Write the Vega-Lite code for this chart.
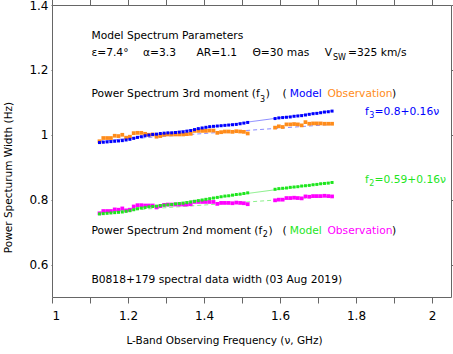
{
  "$schema": "https://vega.github.io/schema/vega-lite/v6.json",
  "width": 399,
  "height": 292,
  "autosize": "none",
  "padding": {"left": 52, "top": 5, "right": 2, "bottom": 57},
  "config": {
    "font": "DejaVu Sans",
    "view": {"stroke": "#666666", "strokeWidth": 1},
    "axis": {"domain": false, "grid": false, "ticks": true, "tickColor": "#666666", "tickWidth": 1, "labelColor": "#000000", "labelFontSize": 12, "titleFontWeight": "normal", "titleColor": "#000000"}
  },
  "datasets": {
    "spec": [
      {"nu": 1.125, "f3m": 0.976, "f3o": 0.980, "f2m": 0.756, "f2o": 0.758},
      {"nu": 1.135, "f3m": 0.977, "f3o": 0.990, "f2m": 0.757, "f2o": 0.765},
      {"nu": 1.145, "f3m": 0.978, "f3o": 0.990, "f2m": 0.758, "f2o": 0.765},
      {"nu": 1.155, "f3m": 0.979, "f3o": 0.990, "f2m": 0.759, "f2o": 0.765},
      {"nu": 1.165, "f3m": 0.980, "f3o": 0.997, "f2m": 0.760, "f2o": 0.770},
      {"nu": 1.175, "f3m": 0.981, "f3o": 0.996, "f2m": 0.761, "f2o": 0.769},
      {"nu": 1.185, "f3m": 0.982, "f3o": 1.000, "f2m": 0.762, "f2o": 0.773},
      {"nu": 1.195, "f3m": 0.984, "f3o": 0.991, "f2m": 0.764, "f2o": 0.767},
      {"nu": 1.205, "f3m": 0.986, "f3o": 0.994, "f2m": 0.766, "f2o": 0.769},
      {"nu": 1.215, "f3m": 0.989, "f3o": 1.005, "f2m": 0.769, "f2o": 0.779},
      {"nu": 1.225, "f3m": 0.992, "f3o": 1.006, "f2m": 0.772, "f2o": 0.783},
      {"nu": 1.235, "f3m": 0.994, "f3o": 1.006, "f2m": 0.774, "f2o": 0.783},
      {"nu": 1.245, "f3m": 0.997, "f3o": 1.003, "f2m": 0.776, "f2o": 0.782},
      {"nu": 1.255, "f3m": 0.999, "f3o": 1.000, "f2m": 0.778, "f2o": 0.782},
      {"nu": 1.265, "f3m": 1.001, "f3o": 1.001, "f2m": 0.779, "f2o": 0.782},
      {"nu": 1.275, "f3m": 1.002, "f3o": 0.994, "f2m": 0.780, "f2o": 0.776},
      {"nu": 1.285, "f3m": 1.004, "f3o": 0.996, "f2m": 0.782, "f2o": 0.780},
      {"nu": 1.295, "f3m": 1.005, "f3o": 1.000, "f2m": 0.783, "f2o": 0.784},
      {"nu": 1.305, "f3m": 1.006, "f3o": 1.001, "f2m": 0.784, "f2o": 0.785},
      {"nu": 1.315, "f3m": 1.006, "f3o": 1.001, "f2m": 0.785, "f2o": 0.785},
      {"nu": 1.325, "f3m": 1.007, "f3o": 1.001, "f2m": 0.787, "f2o": 0.785},
      {"nu": 1.335, "f3m": 1.008, "f3o": 1.001, "f2m": 0.788, "f2o": 0.785},
      {"nu": 1.345, "f3m": 1.009, "f3o": 1.001, "f2m": 0.789, "f2o": 0.785},
      {"nu": 1.355, "f3m": 1.011, "f3o": 1.002, "f2m": 0.791, "f2o": 0.785},
      {"nu": 1.365, "f3m": 1.013, "f3o": 1.003, "f2m": 0.793, "f2o": 0.786},
      {"nu": 1.375, "f3m": 1.016, "f3o": 1.012, "f2m": 0.795, "f2o": 0.793},
      {"nu": 1.385, "f3m": 1.019, "f3o": 1.012, "f2m": 0.797, "f2o": 0.793},
      {"nu": 1.395, "f3m": 1.021, "f3o": 1.012, "f2m": 0.799, "f2o": 0.793},
      {"nu": 1.405, "f3m": 1.023, "f3o": 1.012, "f2m": 0.801, "f2o": 0.793},
      {"nu": 1.415, "f3m": 1.025, "f3o": 1.013, "f2m": 0.803, "f2o": 0.793},
      {"nu": 1.425, "f3m": 1.026, "f3o": 1.013, "f2m": 0.805, "f2o": 0.793},
      {"nu": 1.435, "f3m": 1.027, "f3o": 1.006, "f2m": 0.807, "f2o": 0.787},
      {"nu": 1.445, "f3m": 1.028, "f3o": 1.008, "f2m": 0.809, "f2o": 0.790},
      {"nu": 1.455, "f3m": 1.029, "f3o": 1.010, "f2m": 0.811, "f2o": 0.790},
      {"nu": 1.465, "f3m": 1.030, "f3o": 1.010, "f2m": 0.812, "f2o": 0.790},
      {"nu": 1.475, "f3m": 1.031, "f3o": 1.009, "f2m": 0.814, "f2o": 0.789},
      {"nu": 1.485, "f3m": 1.032, "f3o": 1.011, "f2m": 0.816, "f2o": 0.791},
      {"nu": 1.495, "f3m": 1.034, "f3o": 1.010, "f2m": 0.817, "f2o": 0.790},
      {"nu": 1.505, "f3m": 1.036, "f3o": 1.009, "f2m": 0.819, "f2o": 0.789},
      {"nu": 1.515, "f3m": 1.038, "f3o": 1.004, "f2m": 0.821, "f2o": 0.786},
      {"nu": 1.587, "f3m": 1.050, "f3o": 1.022, "f2m": 0.832, "f2o": 0.798},
      {"nu": 1.597, "f3m": 1.052, "f3o": 1.026, "f2m": 0.834, "f2o": 0.800},
      {"nu": 1.607, "f3m": 1.053, "f3o": 1.024, "f2m": 0.835, "f2o": 0.800},
      {"nu": 1.617, "f3m": 1.054, "f3o": 1.032, "f2m": 0.836, "f2o": 0.805},
      {"nu": 1.627, "f3m": 1.055, "f3o": 1.032, "f2m": 0.838, "f2o": 0.805},
      {"nu": 1.637, "f3m": 1.057, "f3o": 1.033, "f2m": 0.839, "f2o": 0.806},
      {"nu": 1.647, "f3m": 1.058, "f3o": 1.032, "f2m": 0.840, "f2o": 0.805},
      {"nu": 1.657, "f3m": 1.059, "f3o": 1.029, "f2m": 0.842, "f2o": 0.804},
      {"nu": 1.667, "f3m": 1.061, "f3o": 1.039, "f2m": 0.843, "f2o": 0.810},
      {"nu": 1.677, "f3m": 1.063, "f3o": 1.034, "f2m": 0.844, "f2o": 0.809},
      {"nu": 1.687, "f3m": 1.065, "f3o": 1.035, "f2m": 0.846, "f2o": 0.811},
      {"nu": 1.697, "f3m": 1.066, "f3o": 1.035, "f2m": 0.847, "f2o": 0.811},
      {"nu": 1.707, "f3m": 1.068, "f3o": 1.035, "f2m": 0.849, "f2o": 0.811},
      {"nu": 1.717, "f3m": 1.070, "f3o": 1.034, "f2m": 0.850, "f2o": 0.812},
      {"nu": 1.727, "f3m": 1.071, "f3o": 1.034, "f2m": 0.851, "f2o": 0.811},
      {"nu": 1.737, "f3m": 1.073, "f3o": 1.034, "f2m": 0.853, "f2o": 0.810}
    ],
    "fits": [
      {"nu": 1.125, "f3fit": 0.978, "f3obsfit": 0.981, "f2fit": 0.758, "f2obsfit": 0.761},
      {"nu": 1.737, "f3fit": 1.074, "f3obsfit": 1.032, "f2fit": 0.854, "f2obsfit": 0.811}
    ],
    "labels": [
      {"series": "label", "text": "Model Spectrum Parameters", "x": 1.1037, "y": 1.2952},
      {"series": "label", "text": "ε=7.4°", "x": 1.1037, "y": 1.2437},
      {"series": "label", "text": "α=3.3", "x": 1.2395, "y": 1.2437},
      {"series": "label", "text": "AR=1.1", "x": 1.380, "y": 1.2437},
      {"series": "label", "text": "Θ=30 mas", "x": 1.5274, "y": 1.2437},
      {"series": "label", "text": "V", "x": 1.7176, "y": 1.2437},
      {"series": "label", "text": "=325 km/s", "x": 1.7789, "y": 1.2437},
      {"series": "label", "text": "Power Spectrum 3rd moment (f", "x": 1.1037, "y": 1.1155},
      {"series": "label", "text": ")", "x": 1.5625, "y": 1.1155},
      {"series": "label", "text": "(", "x": 1.6063, "y": 1.1155},
      {"series": "f3m", "text": "Model", "x": 1.6255, "y": 1.1155},
      {"series": "f3o", "text": "Observation", "x": 1.7247, "y": 1.1155},
      {"series": "label", "text": ")", "x": 1.8947, "y": 1.1155},
      {"series": "label", "text": "Power Spectrum 2nd moment (f", "x": 1.1037, "y": 0.6932},
      {"series": "label", "text": ")", "x": 1.5695, "y": 0.6932},
      {"series": "label", "text": "(", "x": 1.6063, "y": 0.6932},
      {"series": "f2m", "text": "Model", "x": 1.6255, "y": 0.6932},
      {"series": "f2o", "text": "Observation", "x": 1.7247, "y": 0.6932},
      {"series": "label", "text": ")", "x": 1.8947, "y": 0.6932},
      {"series": "label", "text": "B0818+179 spectral data width (03 Aug 2019)", "x": 1.1037, "y": 0.5421},
      {"series": "f3m", "text": "f", "x": 1.8237, "y": 1.0609},
      {"series": "f3m", "text": "=0.8+0.16ν", "x": 1.8487, "y": 1.0609},
      {"series": "f2m", "text": "f", "x": 1.8237, "y": 0.8504},
      {"series": "f2m", "text": "=0.59+0.16ν", "x": 1.8487, "y": 0.8504}
    ],
    "subs": [
      {"series": "label", "text": "SW", "x": 1.7395, "y": 1.2305},
      {"series": "label", "text": "3", "x": 1.5475, "y": 1.1019},
      {"series": "label", "text": "2", "x": 1.5545, "y": 0.6839},
      {"series": "f3m", "text": "3", "x": 1.8347, "y": 1.0507},
      {"series": "f2m", "text": "2", "x": 1.8347, "y": 0.842}
    ]
  },
  "resolve": {"axis": {"x": "independent", "y": "independent"}},
  "layer": [
    {
      "data": {"name": "fits"},
      "transform": [{"fold": ["f3fit", "f3obsfit", "f2fit", "f2obsfit"], "as": ["series", "value"]}],
      "mark": {"type": "line", "strokeWidth": 1},
      "encoding": {
        "x": {"field": "nu", "type": "quantitative", "scale": {"domain": [1, 2.05], "nice": false, "zero": false},
          "axis": {"orient": "top", "labels": false, "title": null, "values": [1, 1.1, 1.2, 1.3, 1.4, 1.5, 1.6, 1.7, 1.8, 1.9, 2],
            "tickSize": 6,
            "encode": {"ticks": {"update": {"y2": {"signal": "round(datum.value*10)%2==1 ? 3 : 6"}}}}}},
        "y": {"field": "value", "type": "quantitative", "scale": {"domain": [0.5, 1.4], "nice": false, "zero": false},
          "axis": {"orient": "right", "labels": false, "title": null, "values": [0.6, 0.8, 1, 1.2, 1.4], "tickSize": 6,
            "encode": {"ticks": {"update": {"x2": {"value": -6}}}}}},
        "color": {"field": "series", "type": "nominal", "legend": null,
          "scale": {"domain": ["f3m", "f3o", "f2m", "f2o", "f3fit", "f3obsfit", "f2fit", "f2obsfit", "label"],
            "range": ["#0000ff", "#ff8c1a", "#1ee61e", "#ff00ff", "#8c8cff", "#8c8cff", "#8cf08c", "#8cf08c", "#000000"]}},
        "strokeDash": {"field": "series", "type": "nominal", "legend": null,
          "scale": {"domain": ["f3fit", "f3obsfit", "f2fit", "f2obsfit"], "range": [[1, 0], [4, 3], [1, 0], [4, 3]]}}
      }
    },
    {
      "data": {"name": "spec"},
      "transform": [{"fold": ["f3o", "f2o"], "as": ["series", "value"]}],
      "mark": {"type": "point", "shape": "square", "filled": true, "size": 14, "opacity": 1},
      "encoding": {
        "x": {"field": "nu", "type": "quantitative",
          "axis": {"orient": "bottom", "title": "L-Band Observing Frequency (ν, GHz)", "values": [1, 1.1, 1.2, 1.3, 1.4, 1.5, 1.6, 1.7, 1.8, 1.9, 2],
            "tickSize": 6,
            "encode": {"ticks": {"update": {"y2": {"signal": "round(datum.value*10)%2==1 ? -3 : -6"}}}},
            "labelExpr": "round(datum.value*10)%2==0 ? format(datum.value,'~g') : ''",
            "labelPadding": 7, "titleFontSize": 10.5, "titleX": 172, "titleY": 46, "titleAlign": "center", "titleBaseline": "alphabetic"}},
        "y": {"field": "value", "type": "quantitative",
          "axis": {"orient": "left", "title": "Power Specturum Width (Hz)", "values": [0.6, 0.8, 1, 1.2, 1.4], "tickSize": 1,
            "encode": {"ticks": {"update": {"x2": {"value": 6}}}},
            "format": "~g", "labelPadding": 3, "titleFontSize": 10.5, "titleAngle": -90, "titleX": -41, "titleY": 172, "titleAlign": "center", "titleBaseline": "alphabetic"}},
        "color": {"field": "series", "type": "nominal", "legend": null}
      }
    },
    {
      "data": {"name": "spec"},
      "transform": [{"fold": ["f3m", "f2m"], "as": ["series", "value"]}],
      "mark": {"type": "point", "shape": "square", "filled": true, "size": 9, "opacity": 1},
      "encoding": {
        "x": {"field": "nu", "type": "quantitative", "axis": null},
        "y": {"field": "value", "type": "quantitative", "axis": null},
        "color": {"field": "series", "type": "nominal", "legend": null}
      }
    },
    {
      "data": {"name": "labels"},
      "mark": {"type": "text", "align": "left", "baseline": "alphabetic", "fontSize": 10.7, "font": "DejaVu Sans"},
      "encoding": {
        "x": {"field": "x", "type": "quantitative", "axis": null},
        "y": {"field": "y", "type": "quantitative", "axis": null},
        "text": {"field": "text"},
        "color": {"field": "series", "type": "nominal", "legend": null}
      }
    },
    {
      "data": {"name": "subs"},
      "mark": {"type": "text", "align": "left", "baseline": "alphabetic", "fontSize": 8, "font": "DejaVu Sans"},
      "encoding": {
        "x": {"field": "x", "type": "quantitative", "axis": null},
        "y": {"field": "y", "type": "quantitative", "axis": null},
        "text": {"field": "text"},
        "color": {"field": "series", "type": "nominal", "legend": null}
      }
    }
  ]
}
